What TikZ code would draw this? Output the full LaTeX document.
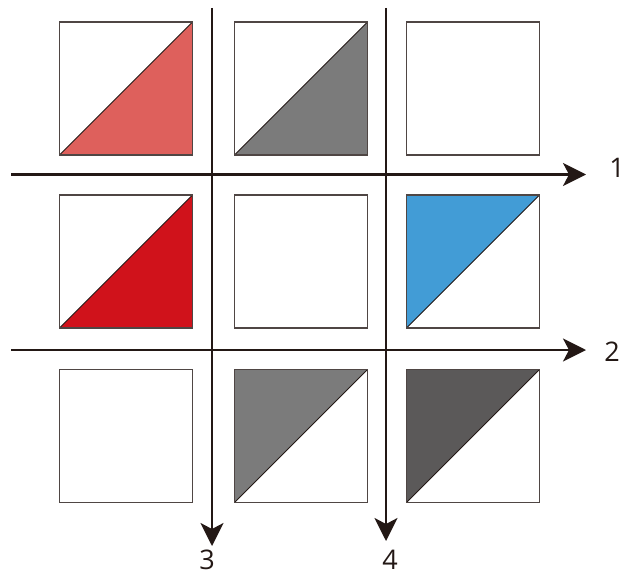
\documentclass[tikz,border=0pt]{standalone}
\usepackage{fontspec}
\setmainfont{Open Sans}
\usetikzlibrary{arrows.meta}
\definecolor{lred}{HTML}{DE605C}
\definecolor{mgray}{HTML}{7B7B7B}
\definecolor{dred}{HTML}{D0121B}
\definecolor{sblue}{HTML}{429CD6}
\definecolor{dgray}{HTML}{5B5959}
\definecolor{ink}{HTML}{231815}
\tikzset{
  cell/.style={draw=ink!80, line width=1.1pt, minimum width=133pt, minimum height=133pt, inner sep=0pt, outer sep=0pt},
  axis/.style={draw=ink, line width=2.2pt, -{Stealth[length=23pt, width=23pt, inset=6pt]}},
  tri/.style={draw=ink, line width=1pt, line join=round},
  lab/.style={font=\fontsize{27}{27}\selectfont, text=ink, inner sep=0pt}
}
\begin{document}
\begin{tikzpicture}[x=1pt,y=-1pt]
\useasboundingbox (0,0) rectangle (626,578);
% cells
\foreach \r/\yy in {1/88.5, 2/261.5, 3/436} {
  \foreach \c/\xx in {1/126, 2/301, 3/473} {
    \node[cell] (c\r\c) at (\xx,\yy) {};
  }
}
% triangles
\fill[lred] (c11.south west) -- (c11.north east) -- (c11.south east) -- cycle;
\draw[tri] (c11.south west) -- (c11.north east);
\fill[mgray] (c12.south west) -- (c12.north east) -- (c12.south east) -- cycle;
\draw[tri] (c12.south west) -- (c12.north east);
\fill[dred] (c21.south west) -- (c21.north east) -- (c21.south east) -- cycle;
\draw[tri] (c21.south west) -- (c21.north east);
\fill[sblue] (c23.south west) -- (c23.north east) -- (c23.north west) -- cycle;
\draw[tri] (c23.south west) -- (c23.north east);
\fill[mgray] (c32.south west) -- (c32.north east) -- (c32.north west) -- cycle;
\draw[tri] (c32.south west) -- (c32.north east);
\fill[dgray] (c33.south west) -- (c33.north east) -- (c33.north west) -- cycle;
\draw[tri] (c33.south west) -- (c33.north east);
\foreach \r in {1,2,3} \foreach \c in {1,2,3} \draw[draw=ink!80, line width=1.1pt] (c\r\c.south west) rectangle (c\r\c.north east);
% axes
\coordinate (h1s) at (11,174.5);
\coordinate (h1e) at (586,174.5);
\coordinate (h2s) at (11,350);
\coordinate (h2e) at (586,350);
\coordinate (v3s) at (212,8);
\coordinate (v3e) at (212,546);
\coordinate (v4s) at (386,8);
\coordinate (v4e) at (386,541);
\draw[axis] (h1s) -- (h1e);
\draw[axis] (h2s) -- (h2e);
\draw[axis] (v3s) -- (v3e);
\draw[axis] (v4s) -- (v4e);
% labels
\node[lab, anchor=base] (l1) at (617,177) {1};
\node[lab, anchor=base] (l2) at (612,361) {2};
\node[lab, anchor=base] (l3) at (207,569) {3};
\node[lab, anchor=base] (l4) at (390,569) {4};
\end{tikzpicture}
\end{document}
